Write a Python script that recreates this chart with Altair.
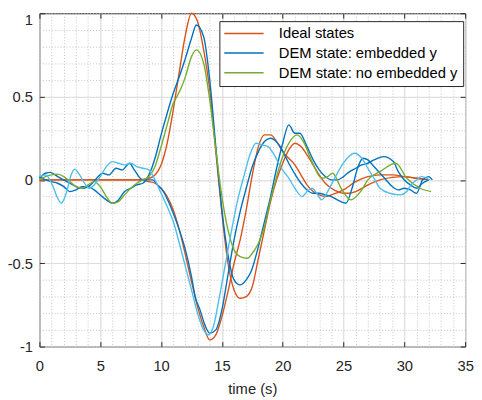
import altair as alt
import pandas as pd

# ---------------- data ----------------
# Ideal state A (orange, positive pulse first)
T_IA = [0, 8, 9, 9.5, 10, 10.5, 11, 11.5, 12, 12.5, 13, 13.5, 14, 14.5, 15, 15.5, 16, 16.5, 17, 17.5,
        18, 18.5, 19, 19.5, 20, 20.5, 21, 21.5, 22, 22.5, 23, 23.5, 24, 24.5, 25, 25.5, 26, 27, 28, 29,
        30, 31, 32]
Y_IA = [0, 0, 0.01, 0.03, 0.09, 0.22, 0.42, 0.65, 0.87, 1.0, 0.95, 0.78, 0.54, 0.17, -0.2, -0.5, -0.66, -0.71, -0.7, -0.64,
        -0.47, -0.3, -0.13, 0.0, 0.1, 0.18, 0.22, 0.2, 0.15, 0.09, 0.03, -0.02, -0.05, -0.07, -0.08, -0.08, -0.07, -0.03, 0.0, 0.015,
        0.02, 0.01, 0.0]

# Ideal state B (orange, negative pulse first)
T_IB = [0, 8, 9, 9.5, 10, 10.5, 11, 11.5, 12, 12.5, 13, 13.5, 14, 14.5, 15, 15.5, 16, 16.5, 17, 17.5,
        18, 18.5, 19, 19.5, 20, 20.5, 21, 21.5, 22, 22.5, 23, 23.5, 24, 25, 26, 27, 28, 29, 30, 31, 32]
Y_IB = [0, 0, -0.01, -0.02, -0.05, -0.1, -0.18, -0.3, -0.45, -0.61, -0.76, -0.88, -0.96, -0.93, -0.82, -0.67, -0.5, -0.36, -0.18, 0.03,
        0.2, 0.27, 0.27, 0.23, 0.17, 0.13, 0.09, 0.03, -0.03, -0.07, -0.09, -0.1, -0.09, -0.06, -0.01, 0.02, 0.03, 0.03, 0.02, 0.01, 0.0]

# DEM embedded y, state A (dark blue)
T_EA = [0, 0.5, 1, 1.5, 2, 2.5, 3, 3.5, 4, 4.5, 5, 5.5, 6, 6.5, 7, 7.5, 8, 8.5, 9, 9.5,
        10, 10.5, 11, 11.5, 12, 12.5, 12.9, 13.5, 14, 14.5, 15, 15.5, 16, 16.5, 17, 17.4, 18, 18.5, 19, 19.5,
        20, 20.5, 21, 21.4, 22, 22.5, 23, 23.5, 24, 24.5, 25, 25.5, 26, 26.5, 27, 27.5, 28.3, 29.1, 29.5, 30,
        30.5, 31, 31.5, 32]
Y_EA = [0.02, 0.0, -0.01, -0.02, -0.04, -0.07, -0.06, -0.04, -0.04, -0.06, -0.09, -0.12, -0.14, -0.12, -0.07, -0.05, -0.03, -0.02, 0.03, 0.13,
        0.27, 0.4, 0.52, 0.62, 0.73, 0.85, 0.93, 0.86, 0.6, 0.2, -0.18, -0.45, -0.6, -0.63, -0.6, -0.55, -0.4, -0.25, -0.1, 0.07,
        0.22, 0.33, 0.28, 0.28, 0.2, 0.12, 0.06, 0.02, 0.0, 0.0, 0.02, 0.05, 0.07, 0.09, 0.1, 0.12, 0.14, 0.11, 0.05, 0.0,
        -0.03, -0.05, -0.02, 0.0]

# DEM embedded y, state B (dark blue)
T_EB = [0, 0.5, 0.9, 1.5, 2, 2.5, 3, 3.6, 4.2, 4.7, 5.2, 5.7, 6.3, 6.8, 7.4, 7.8, 8.5, 9.3, 9.7, 10.2,
        10.6, 11, 11.5, 12, 12.5, 12.8, 13.2, 13.6, 14, 14.5, 15, 15.5, 16, 16.5, 17, 17.5, 18, 18.5, 19, 19.7,
        20.5, 21, 21.5, 22, 22.5, 23, 23.5, 24, 24.5, 25.2, 25.7, 26.2, 26.6, 27, 27.5, 28, 28.5, 29, 29.5, 30,
        30.5, 31, 31.5, 32, 32.3]
Y_EB = [0.01, 0.04, 0.045, 0.02, 0.0, -0.02, -0.04, -0.05, -0.03, 0.01, 0.04, 0.03, 0.07, 0.06, 0.1, 0.06, 0.0, 0.0, -0.03, -0.07,
        -0.13, -0.2, -0.3, -0.42, -0.58, -0.7, -0.78, -0.87, -0.92, -0.9, -0.78, -0.57, -0.36, -0.19, -0.05, 0.08, 0.17, 0.23, 0.25, 0.21,
        0.1, 0.035, -0.02, -0.06, -0.08, -0.08, -0.09, -0.1, -0.12, -0.14, -0.05, 0.08, 0.13, 0.12, 0.08, 0.04, 0.0, -0.04, -0.06, -0.05,
        -0.06, -0.08, 0.0, 0.02, 0.0]

# DEM no embedded y, state A (green)
T_NA = [0, 0.5, 1, 1.5, 2, 2.5, 3, 3.5, 4, 4.5, 5, 5.5, 6, 6.5, 7, 7.5, 8, 8.5, 9, 9.5,
        10, 10.5, 11, 11.3, 11.7, 12, 12.5, 12.9, 13.5, 14, 14.5, 15, 15.5, 16, 16.5, 17.1, 17.5, 18, 18.5, 19,
        19.5, 20, 20.5, 21.2, 21.7, 22.4, 23.2, 23.7, 24.1, 24.8, 25.6, 26.4, 27, 28, 29.3, 30.2, 31.3, 32.2]
Y_NA = [0.0, 0.02, 0.03, 0.035, 0.02, -0.01, -0.04, -0.05, -0.03, -0.01, -0.04, -0.1, -0.14, -0.13, -0.09, -0.05, -0.02, 0.0, 0.02, 0.08,
        0.2, 0.33, 0.46, 0.5, 0.56, 0.62, 0.74, 0.78, 0.7, 0.48, 0.18, -0.1, -0.3, -0.42, -0.46, -0.47, -0.44, -0.38, -0.28, -0.12,
        0.02, 0.14, 0.22, 0.27, 0.23, 0.11, 0.01, 0.02, 0.04, -0.05, -0.12, -0.07, 0.0, 0.05, 0.1, 0.01, -0.05, -0.07]

# DEM no embedded y, state B (light blue, not in legend)
T_LB = [0, 0.5, 1, 1.5, 1.8, 2.2, 2.6, 2.9, 3.3, 3.8, 4.1, 4.5, 5, 5.5, 6, 6.5, 7, 7.5, 8, 8.5,
        9, 9.5, 10, 10.5, 11, 11.5, 12, 12.5, 13, 13.5, 13.9, 14.3, 14.8, 15.3, 15.8, 16.3, 16.8, 17.3, 17.8, 18.3,
        18.8, 19.3, 19.8, 20.5, 21, 21.6, 22, 22.4, 22.8, 23.2, 23.7, 24.2, 24.8, 25.3, 25.9, 26.5, 27, 27.5, 28, 28.8,
        29.7, 30.2, 30.5, 31, 31.4, 32.1]
Y_LB = [0.02, 0.03, -0.02, -0.11, -0.14, -0.08, 0.03, 0.065, 0.03, -0.03, -0.05, -0.03, 0.02, 0.08, 0.11, 0.1, 0.09, 0.1, 0.08, 0.07,
        0.06, 0.0, -0.08, -0.16, -0.25, -0.38, -0.52, -0.66, -0.8, -0.9, -0.93, -0.88, -0.7, -0.5, -0.3, -0.12, 0.02, 0.15, 0.22, 0.21,
        0.2, 0.15, 0.08, 0.01, -0.05, -0.1, -0.07, -0.05, -0.08, -0.12, -0.07, 0.0, 0.08, 0.13, 0.16, 0.13, 0.07, 0.01, -0.05, -0.08,
        -0.09, -0.07, -0.035, 0.0, 0.02, 0.0]

CATS = ["Ideal states", "DEM state: embedded y", "DEM state: no embedded y"]
COLORS = ["#D95319", "#0072BD", "#77AC30"]
LIGHT_BLUE = "#4DBEEE"

X_MAJOR = [0, 5, 10, 15, 20, 25, 30, 35]
Y_MAJOR = [-1, -0.5, 0, 0.5, 1]
Y_LABELS_LOW = [-1, -0.5, 0, 0.5]
Y_LABELS_TOP = [1]
X_MINOR = [0, 1, 2, 3, 4, 5, 6, 7, 8, 9, 10, 11, 12, 13, 14, 15, 16, 17, 18, 19, 20, 21, 22, 23, 24,
           25, 26, 27, 28, 29, 30, 31, 32, 33, 34, 35]
Y_MINOR = [-1, -0.9, -0.8, -0.7, -0.6, -0.5, -0.4, -0.3, -0.2, -0.1, 0, 0.1, 0.2, 0.3, 0.4, 0.5,
           0.6, 0.7, 0.8, 0.9, 1]

series = [
    ("IA", CATS[0], T_IA, Y_IA),
    ("IB", CATS[0], T_IB, Y_IB),
    ("EA", CATS[1], T_EA, Y_EA),
    ("EB", CATS[1], T_EB, Y_EB),
    ("NA", CATS[2], T_NA, Y_NA),
    ("LB", "other", T_LB, Y_LB),
]
rows = []
for name, cat, ts, vs in series:
    for t, v in zip(ts, vs):
        rows.append({"t": t, "v": v, "series": name, "cat": cat})
df = pd.DataFrame(rows)

W, H = 433, 339
FONT = "Liberation Sans"
AX = "#262626"
LABEL_EXPR = "datum.value < 0 ? '-' + format(-datum.value, '~g') : format(datum.value, '~g')"

xs = alt.Scale(domain=[0, 35], nice=False, zero=False)
ys = alt.Scale(domain=[-1, 1], nice=False, zero=False)

base = alt.Chart(df)


def hidden_axis(orient, values, **kw):
    opts = dict(orient=orient, values=values, grid=False, labels=False, ticks=False,
                domain=False, title=None)
    opts.update(kw)
    return alt.Axis(**opts)


# minor dotted grid
minor = base.mark_line(opacity=0).encode(
    x=alt.X("t:Q", scale=xs, axis=hidden_axis("bottom", X_MINOR, grid=True, gridColor="#c4c4c4",
                                              gridDash=[1, 2], gridWidth=1)),
    y=alt.Y("v:Q", scale=ys, axis=hidden_axis("left", Y_MINOR, grid=True, gridColor="#c4c4c4",
                                              gridDash=[1, 2], gridWidth=1)),
    detail="series:N",
)

# major grid + labels
major = base.mark_line(opacity=0).encode(
    x=alt.X("t:Q", scale=xs, axis=alt.Axis(orient="bottom", values=X_MAJOR, grid=True, gridColor="#dcdcdc",
                                            gridWidth=1, ticks=False, tickSize=0, domain=False,
                                            labelFont=FONT, labelFontSize=15, labelColor=AX, labelPadding=12,
                                            labelFlush=False,
                                            title="time (s)", titleFont=FONT, titleFontSize=15,
                                            titleFontWeight="normal", titleColor=AX, titlePadding=9)),
    y=alt.Y("v:Q", scale=ys, axis=alt.Axis(orient="left", values=Y_LABELS_LOW, grid=True, gridColor="#dcdcdc",
                                            gridWidth=1, ticks=False, tickSize=0, domain=False,
                                            labelFont=FONT, labelFontSize=15, labelColor=AX, labelPadding=7,
                                            labelFlush=False, labelExpr=LABEL_EXPR, title=None)),
    detail="series:N",
)

# the top y label, nudged down so it stays inside the picture
top_label = base.mark_line(opacity=0).encode(
    x=alt.X("t:Q", scale=xs, axis=hidden_axis("bottom", X_MAJOR)),
    y=alt.Y("v:Q", scale=ys, axis=hidden_axis("left", Y_LABELS_TOP, labels=True, tickSize=0,
                                              labelFont=FONT, labelFontSize=15, labelColor=AX,
                                              labelPadding=7, labelFlush=False, labelOffset=6,
                                              labelExpr=LABEL_EXPR)),
    detail="series:N",
)

# inward ticks on bottom / left edges
ticks_bl = base.mark_line(opacity=0).encode(
    x=alt.X("t:Q", scale=xs, axis=hidden_axis("top", X_MAJOR, offset=-H, ticks=True, tickSize=5,
                                              tickColor=AX, tickWidth=1)),
    y=alt.Y("v:Q", scale=ys, axis=hidden_axis("right", Y_MAJOR, offset=-W, ticks=True, tickSize=5,
                                              tickColor=AX, tickWidth=1)),
    detail="series:N",
)

# inward ticks on top / right edges
ticks_tr = base.mark_line(opacity=0).encode(
    x=alt.X("t:Q", scale=xs, axis=hidden_axis("bottom", X_MAJOR, offset=-H, ticks=True, tickSize=5,
                                              tickColor=AX, tickWidth=1)),
    y=alt.Y("v:Q", scale=ys, axis=hidden_axis("left", Y_MAJOR, offset=-W, ticks=True, tickSize=5,
                                              tickColor=AX, tickWidth=1)),
    detail="series:N",
)

lines = base.transform_filter(alt.datum.cat != "other").mark_line(
    interpolate="monotone", strokeWidth=1.4
).encode(
    x=alt.X("t:Q", scale=xs, axis=None),
    y=alt.Y("v:Q", scale=ys, axis=None),
    color=alt.Color("cat:N", scale=alt.Scale(domain=CATS, range=COLORS), sort=CATS,
                    legend=alt.Legend(title=None, orient="none", legendX=183, legendY=8,
                                      fillColor="white", strokeColor=AX, padding=5, rowPadding=4,
                                      symbolType="M-3,0H3", symbolSize=178, symbolStrokeWidth=1.5,
                                      symbolOffset=12.5, labelOffset=28, labelFont=FONT, labelFontSize=15,
                                      labelColor="black", labelLimit=400, cornerRadius=0)),
    detail="series:N",
)

light = base.transform_filter(alt.datum.cat == "other").mark_line(
    interpolate="monotone", strokeWidth=1.4, color=LIGHT_BLUE
).encode(
    x=alt.X("t:Q", scale=xs, axis=None),
    y=alt.Y("v:Q", scale=ys, axis=None),
    detail="series:N",
)

chart = alt.layer(minor, major, top_label, ticks_bl, ticks_tr, lines, light).resolve_axis(
    x="independent", y="independent"
).properties(
    width=W, height=H,
    autosize=alt.AutoSizeParams(type="none"),
    padding={"left": 32, "top": 2, "right": 9, "bottom": 51},
    background="white",
).configure_view(stroke=AX, strokeWidth=1)

chart.save("out.html", embed_options={"renderer": "svg", "actions": False})
